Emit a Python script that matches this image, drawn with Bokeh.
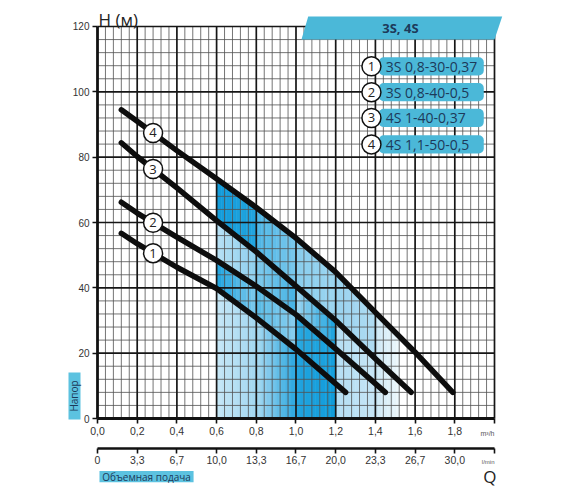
import numpy as np
from bokeh.plotting import figure
from bokeh.models import LinearAxis, FixedTicker
from bokeh.core.properties import value
from bokeh.embed import file_html
from bokeh.resources import INLINE

# ---------------- data ----------------
q1 = [0.12, 0.2, 0.4, 0.6, 0.8, 1.0, 1.25]
h1 = [56.7, 53.5, 46.3, 39.8, 30.8, 21.2, 8.0]
q2 = [0.12, 0.2, 0.4, 0.6, 0.8, 1.0, 1.2, 1.45]
h2 = [66.2, 62.9, 55.5, 48.4, 40.5, 31.8, 21.3, 8.0]
q3 = [0.12, 0.2, 0.4, 0.6, 0.8, 1.0, 1.2, 1.4, 1.58]
h3 = [84.4, 80.2, 70.6, 60.6, 51.0, 40.5, 30.0, 18.3, 8.0]
q4 = [0.12, 0.2, 0.4, 0.6, 0.8, 1.0, 1.2, 1.4, 1.6, 1.79]
h4 = [94.5, 91.0, 82.0, 73.4, 64.6, 55.2, 44.8, 32.5, 20.3, 8.0]

curve_ids = ["1", "2", "3", "4"]
models = ["3S 0,8-30-0,37", "3S 0,8-40-0,5", "4S 1-40-0,37", "4S 1,1-50-0,5"]
header = "3S, 4S"

h_ticks = [0, 20, 40, 60, 80, 100, 120]
q_ticks = [0.0, 0.2, 0.4, 0.6, 0.8, 1.0, 1.2, 1.4, 1.6, 1.8, 2.0]
q_m3h_labels = ["0,0", "0,2", "0,4", "0,6", "0,8", "1,0", "1,2", "1,4", "1,6", "1,8", ""]
q_lmin_labels = ["0", "3,3", "6,7", "10,0", "13,3", "16,7", "20,0", "23,3", "26,7", "30,0", ""]

# working range of the pumps (m3/h)
range_start, range_dark_end, range_light_end = 0.6, 1.2, 1.52

curves = [(q1, h1), (q2, h2), (q3, h3), (q4, h4)]

# ---------------- figure ----------------
XR = (-0.48866, 2.38287)
YR = (-21.122, 127.959)
p = figure(width=570, height=487, x_range=XR, y_range=YR, title=None,
           x_axis_location=None, y_axis_location=None,
           output_backend="svg", toolbar_location=None, min_border=0)
p.outline_line_color = None
p.grid.visible = False
p.background_fill_color = "white"


def hex2rgb(h):
    h = h.lstrip("#")
    return [int(h[i:i + 2], 16) for i in (0, 2, 4)]


def mix(c1, c2, t):
    a, b = hex2rgb(c1), hex2rgb(c2)
    return "#%02x%02x%02x" % tuple(int(round(a[i] + (b[i] - a[i]) * t)) for i in range(3))


def band_poly(a, b, upper, lower):
    ux, uy = upper
    pts = [a, b] + [x for x in ux if a < x < b]
    if lower is not None:
        pts += [x for x in lower[0] if a < x < b]
    xs = sorted(set(pts))
    top = np.interp(xs, ux, uy)
    if lower is not None:
        bot = np.interp(xs, lower[0], lower[1])
    else:
        bot = np.zeros(len(xs))
    return list(xs) + list(xs[::-1]), list(top) + list(bot[::-1])


# shaded cells: (upper curve, lower curve, x from, x to, colour left, colour right)
C1, C2, C3, C4 = curves
cells = [
    (C4, None, 1.2, 1.4, "#b3ddf3", "#c6e6f6"),
    (C4, None, 1.4, range_light_end, "#cbe8f6", "#eef8fc"),
    (C4, C3, 1.2, 1.4, "#98d2ef", "#b0dcf2"),
    (C4, C3, 0.6, 0.8, "#129bda", "#22a5df"),
    (C4, C3, 0.8, 1.0, "#4db6e6", "#7ac8ec"),
    (C4, C3, 1.0, 1.2, "#88ceee", "#9cd5f0"),
    (C3, C2, 0.6, 0.8, "#b6e0f4", "#8fd0ef"),
    (C3, C2, 0.8, 1.0, "#80caed", "#45b2e4"),
    (C3, C2, 1.0, 1.2, "#a0d7f1", "#1aa2de"),
    (C2, C1, 0.6, 0.8, "#1ea3de", "#7cc9ed"),
    (C2, C1, 0.8, 1.0, "#58bbe7", "#88ceee"),
    (C2, C1, 1.0, 1.2, "#2aa8e0", "#14a0dd"),
    (C1, None, 0.6, 0.8, "#c6e7f6", "#a3d7f1"),
    (C1, None, 0.8, 1.0, "#a8d9f1", "#2aa7e0"),
    (C1, None, 1.0, 1.2, "#22a4df", "#109cda"),
]
sx, sy, sc = [], [], []
n = 8
for up, lo, a, b, cl, cr in cells:
    for k in range(n):
        xa = a + (b - a) * k / n
        xb = a + (b - a) * (k + 1) / n
        px, py = band_poly(xa, xb, up, lo)
        sx.append(px)
        sy.append(py)
        sc.append(mix(cl, cr, (k + 0.5) / n))
p.patches(sx, sy, fill_color=sc, line_color=sc, line_width=0.6)

# ---------------- grid ----------------
minor_x = [k * 0.04 for k in range(1, 50) if k % 5 != 0]
minor_y = [k * 4 for k in range(1, 30) if k % 5 != 0]
major_x = [k * 0.2 for k in range(1, 11)]
major_y = [k * 20 for k in range(1, 7)]
p.segment(x0=minor_x, y0=[0] * len(minor_x), x1=minor_x, y1=[120] * len(minor_x),
          line_color="#505050", line_width=0.8)
p.segment(x0=[0] * len(minor_y), y0=minor_y, x1=[2.0] * len(minor_y), y1=minor_y,
          line_color="#505050", line_width=0.8)
p.segment(x0=major_x, y0=[0] * len(major_x), x1=major_x, y1=[120] * len(major_x),
          line_color="#161616", line_width=1.7)
p.segment(x0=[0] * len(major_y), y0=major_y, x1=[2.0] * len(major_y), y1=major_y,
          line_color="#161616", line_width=1.7)

# ---------------- axes ----------------


def style_axis(ax, lw):
    ax.major_tick_in = 0
    ax.major_tick_out = 5
    ax.minor_tick_line_color = None
    ax.axis_line_width = lw
    ax.axis_line_color = "#111111"
    ax.major_tick_line_color = "#111111"
    ax.major_tick_line_width = 1.6
    ax.major_label_text_font = "Liberation Sans"
    ax.major_label_text_font_size = "10.5px"
    ax.major_label_text_color = "#333333"
    ax.major_label_standoff = 3


yax = LinearAxis(fixed_location=0, bounds=(0, 120), ticker=FixedTicker(ticks=h_ticks))
style_axis(yax, 2.8)
yax.major_label_text_font_size = "10px"
p.add_layout(yax, "left")

xax = LinearAxis(fixed_location=0, bounds=(0, 2.0), ticker=FixedTicker(ticks=q_ticks),
                 major_label_overrides=dict(zip(q_ticks, q_m3h_labels)))
style_axis(xax, 3)
p.add_layout(xax, "below")

xax2 = LinearAxis(fixed_location=-9.18, bounds=(0, 2.0), ticker=FixedTicker(ticks=q_ticks),
                  major_label_overrides=dict(zip(q_ticks, q_lmin_labels)))
style_axis(xax2, 2.5)
p.add_layout(xax2, "below")

# ---------------- curves ----------------
for qx, hy in curves:
    p.line(qx, hy, line_color="#0d0d0d", line_width=5.5, line_cap="round", line_join="round")

lab_x = [0.28] * 4
lab_y = [float(np.interp(0.28, c[0], c[1])) for c in curves]
p.scatter(lab_x, lab_y, marker="circle", size=19, fill_color="white",
          line_color="#111111", line_width=1.5)
p.text(lab_x, lab_y, text=curve_ids, text_font=value("Open Sans"), text_font_size="13px",
       text_align="center", text_baseline="middle", text_color="#222222")

# ---------------- header ----------------
PILL = "#4bb8d8"
DARK = "#1d3a5a"
p.patch([1.0277, 1.0615, 2.0388, 2.0], [116.0, 123.06, 123.06, 116.0],
        fill_color=PILL, line_color=None)
p.text([1.526], [119.5], text=[header], text_font=value("Open Sans"), text_font_size="13px",
       text_font_style="bold", text_align="center", text_baseline="middle", text_color=DARK)

# ---------------- legend ----------------
leg_y = [107.8, 99.9, 92.0, 83.9]
p.quad(left=[1.417] * 4, right=[1.946] * 4, bottom=[v - 2.8 for v in leg_y],
       top=[v + 2.8 for v in leg_y], fill_color=PILL, line_color=None, border_radius=5)
p.scatter([1.380] * 4, leg_y, marker="circle", size=19, fill_color="white",
          line_color="#111111", line_width=1.5)
p.text([1.380] * 4, leg_y, text=curve_ids, text_font=value("Open Sans"), text_font_size="13px",
       text_align="center", text_baseline="middle", text_color="#222222")
p.text([1.452] * 4, leg_y, text=models, text_font=value("Open Sans"), text_font_size="14px",
       text_align="left", text_baseline="middle", text_color=DARK)

# ---------------- titles / units ----------------
p.text([0.005], [122.1], text=["H (м)"], text_font=value("Open Sans"), text_font_size="17px",
       text_align="left", text_baseline="alphabetic", text_color="#222222")
p.text([2.0], [-4.6], text=["m³/h"], text_font=value("Liberation Sans"), text_font_size="7px",
       text_align="right", text_baseline="middle", text_color="#555555")
p.text([2.0], [-13.2], text=["l/min"], text_font=value("Liberation Sans"), text_font_size="6px",
       text_align="right", text_baseline="middle", text_color="#555555")
p.text([1.977], [-17.75], text=["Q"], text_font=value("Open Sans"), text_font_size="17px",
       text_align="center", text_baseline="middle", text_color="#222222")

LIGHT = "#5cc2e0"
p.quad(left=[0.010], right=[0.484], bottom=[-19.5], top=[-16.1], fill_color=LIGHT, line_color=None)
p.text([0.247], [-17.8], text=["Объемная подача"], text_font=value("Open Sans"),
       text_font_size="10px", text_align="center", text_baseline="middle", text_color=DARK)
p.quad(left=[-0.1461], right=[-0.0856], bottom=[-0.3], top=[14.1], fill_color=LIGHT, line_color=None)
p.text([-0.1159], [6.9], text=["Напор"], angle=np.pi / 2, text_font=value("Open Sans"),
       text_font_size="10px", text_align="center", text_baseline="middle", text_color=DARK)

open("out.html", "w").write(file_html(p, INLINE))
